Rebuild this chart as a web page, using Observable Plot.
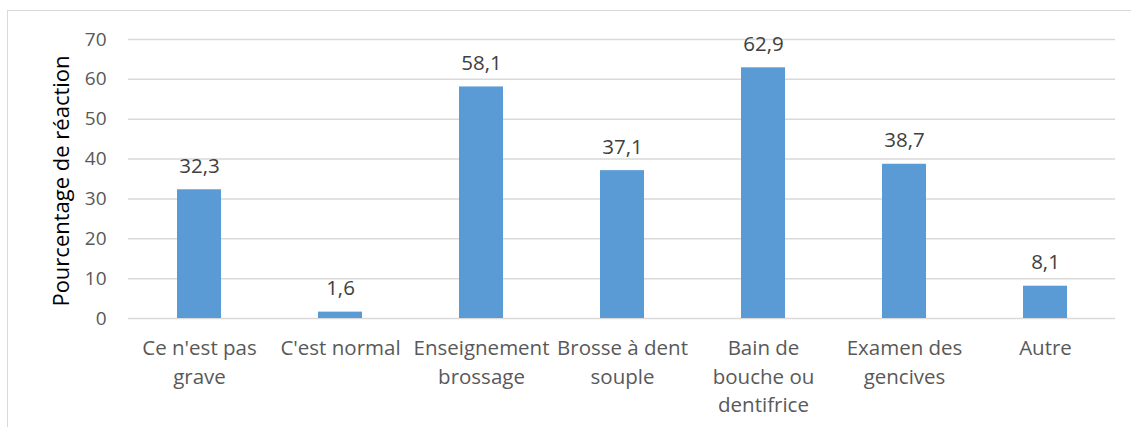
<!DOCTYPE html>
<html>
<head>
<meta charset="utf-8">
<script src="https://cdn.jsdelivr.net/npm/d3@7"></script>
<script src="https://cdn.jsdelivr.net/npm/@observablehq/plot@0.6"></script>
<style>
  html, body { margin: 0; padding: 0; background: #fff; overflow: hidden; }
  #wrap { position: relative; width: 1131px; height: 427px; }
  #border { position: absolute; left: 7px; top: 10px; width: 1300px; height: 600px; border: 1px solid #d9d9d9; box-sizing: border-box; pointer-events: none; }
  #chart { position: absolute; left: 0; top: 0; }
</style>
</head>
<body>
<div id="wrap"><div id="border"></div><div id="chart"></div></div>
<script>
const categories = ["Ce n'est pas\ngrave", "C'est normal", "Enseignement\nbrossage", "Brosse à dent\nsouple", "Bain de\nbouche ou\ndentifrice", "Examen des\ngencives", "Autre"];
const values = [32.3, 1.6, 58.1, 37.1, 62.9, 38.7, 8.1];
const yTicks = [0, 10, 20, 30, 40, 50, 60, 70];
const yTitle = "Pourcentage de réaction";

const data = categories.map((c, i) => ({cat: c, value: values[i]}));
const fmt = v => v.toFixed(1).replace(".", ",");

const chart = Plot.plot({
  width: 1131,
  height: 427,
  marginLeft: 128,
  marginRight: 16,
  marginTop: 39,
  marginBottom: 109,
  style: {fontFamily: "'Open Sans', sans-serif", background: "transparent"},
  x: {domain: categories, paddingInner: 0.69, paddingOuter: 0.345, axis: null},
  y: {domain: [0, 70], axis: null},
  marks: [
    Plot.ruleY(yTicks, {stroke: "#d9d9d9", strokeWidth: 1.5}),
    Plot.barY(data, {x: "cat", y: "value", fill: "#5b9bd5"}),
    Plot.text(data, {x: "cat", y: "value", text: d => fmt(d.value), lineAnchor: "bottom", dy: -17, fontSize: 20.5, fill: "#404040"}),
    Plot.text(data, {x: "cat", y: 0, text: "cat", lineAnchor: "top", dy: 17, fontSize: 20.5, lineHeight: 1.37, fill: "#595959"}),
    Plot.axisY(yTicks, {tickSize: 0, tickPadding: 22, fontSize: 19, color: "#595959", label: null, tickFormat: d => String(d)}),
    Plot.text([yTitle], {frameAnchor: "left", textAnchor: "middle", dx: -67, dy: 2, rotate: -90, fontSize: 22, fill: "#000"}),
  ]
});
document.getElementById("chart").appendChild(chart);
</script>
</body>
</html>
